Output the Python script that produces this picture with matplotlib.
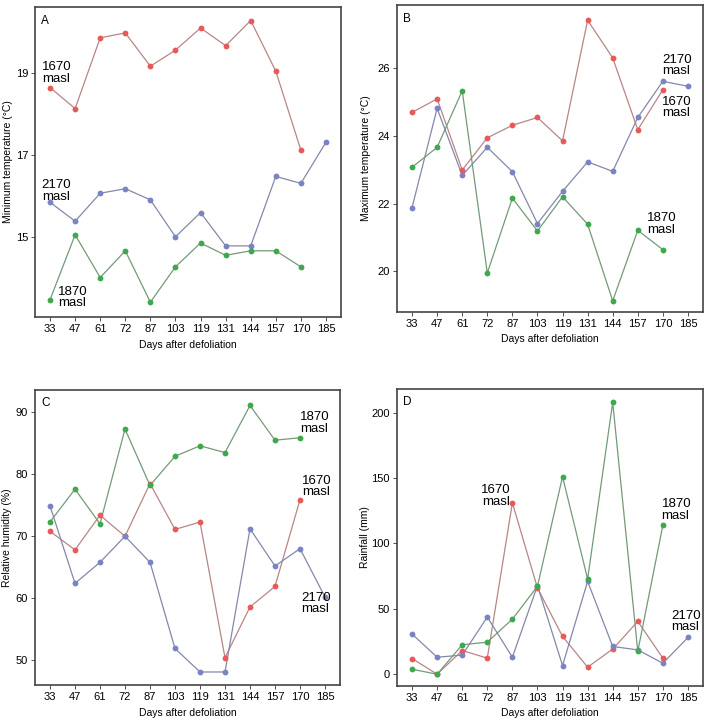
from matplotlib import pyplot as plt
import numpy as np

plt.rcParams['font.family'] = ['Liberation Sans', 'DejaVu Sans']

nan = np.nan
days = ["33", "47", "61", "72", "87", "103", "119", "131", "144", "157", "170", "185"]

# minimum temperature
tmin_1670 = [18.64, 18.13, 19.85, 19.97, 19.16, 19.55, 20.09, 19.66, 20.27, 19.04, 17.12, nan]
tmin_1870 = [13.48, 15.06, 14.02, 14.67, 13.42, 14.28, 14.86, 14.56, 14.67, 14.67, 14.28, nan]
tmin_2170 = [15.85, 15.39, 16.07, 16.18, 15.91, 15.01, 15.60, 14.79, 14.79, 16.48, 16.31, 17.31]

# maximum temperature
tmax_1670 = [24.69, 25.09, 22.99, 23.94, 24.31, 24.54, 23.85, 27.41, 26.30, 24.18, 25.36, nan]
tmax_1870 = [23.07, 23.66, 25.33, 19.95, 22.16, 21.19, 22.20, 21.39, 19.13, 21.21, 20.64, nan]
tmax_2170 = [21.88, 24.81, 22.83, 23.66, 22.94, 21.41, 22.36, 23.23, 22.95, 24.54, 25.61, 25.46]

# relative humidity
rh_1670 = [70.7, 67.7, 73.3, 69.9, 78.4, 71.0, 72.2, 50.3, 58.5, 61.8, 75.8, nan]
rh_1870 = [72.2, 77.5, 71.9, 87.2, 78.1, 82.8, 84.5, 83.4, 91.0, 85.4, 85.8, nan]
rh_2170 = [74.8, 62.3, 65.7, 69.9, 65.7, 51.8, 48.0, 48.0, 71.1, 65.1, 67.9, 60.1]

# rainfall
rain_1670 = [12.0, 0.0, 18.1, 12.3, 131.0, 65.9, 28.9, 5.4, 19.2, 40.4, 12.3, nan]
rain_1870 = [3.8, 0.0, 22.5, 24.5, 42.1, 67.2, 151.0, 72.8, 207.7, 17.4, 113.9, nan]
rain_2170 = [30.7, 13.0, 14.6, 43.7, 13.0, 67.7, 6.6, 71.0, 21.2, 18.6, 8.4, 28.1]

line_col = {"1670": "#b98585", "1870": "#749a78", "2170": "#8488aa"}
pt_col = {"1670": "#e8595a", "1870": "#3ea84c", "2170": "#7a84c4"}

W, H = 710, 722
fig = plt.figure(figsize=(W / 100, H / 100), dpi=100)


def panel(box, letter, series, ylim, yticks, ylabel, labx, notes):
    l, t, r, b = box
    ax = fig.add_axes([l / W, 1 - b / H, (r - l) / W, (b - t) / H])
    x = np.arange(len(days))
    for key in ["1670", "2170", "1870"]:
        ax.plot(x, series[key], '-', color=line_col[key], lw=0.9, zorder=2)
        ax.plot(x, series[key], 'o', color=pt_col[key], ms=4.2, mec='none', zorder=3)
    ax.set_xlim(-0.6, 11.6)
    ax.set_ylim(*ylim)
    ax.set_xticks(x)
    ax.set_xticklabels(days)
    ax.set_yticks(yticks)
    ax.tick_params(labelsize=8, length=3, width=0.6, color='#333333', pad=2)
    for s in ax.spines.values():
        s.set_color('#444444')
        s.set_linewidth(1.2)
    ax.set_xlabel("Days after defoliation", fontsize=7.5, labelpad=4)
    ax.set_ylabel(ylabel, fontsize=7.5)
    ax.yaxis.set_label_coords(labx, 0.5)
    ax.text(0.02, 0.975, letter, transform=ax.transAxes, fontsize=8.5, va='top', ha='left')
    for txt, xi, yv, ha in notes:
        ax.text(xi, yv, txt + "\nmasl", fontsize=9.5, ha=ha, va='center', linespacing=0.95)
    return ax


panel((35, 7, 341, 317), "A",
      {"1670": tmin_1670, "1870": tmin_1870, "2170": tmin_2170},
      (13.06, 20.6), [15, 17, 19], "Minimum temperature (°C)", -0.073,
      [("1670", -0.33, 19.0, 'left'), ("2170", -0.33, 16.13, 'left'), ("1870", 0.32, 13.53, 'left')])

panel((397, 5, 703, 312), "B",
      {"1670": tmax_1670, "1870": tmax_1870, "2170": tmax_2170},
      (18.8, 27.86), [20, 22, 24, 26], "Maximum temperature (°C)", -0.085,
      [("2170", 9.97, 26.07, 'left'), ("1670", 9.97, 24.83, 'left'), ("1870", 9.36, 21.40, 'left')])

panel((35, 390, 340, 685), "C",
      {"1670": rh_1670, "1870": rh_1870, "2170": rh_2170},
      (45.9, 93.5), [50, 60, 70, 80, 90], "Relative humidity (%)", -0.075,
      [("1870", 10.0, 88.2, 'left'), ("1670", 10.07, 77.9, 'left'), ("2170", 10.05, 59.05, 'left')])

panel((397, 389, 703, 686), "D",
      {"1670": rain_1670, "1870": rain_1870, "2170": rain_2170},
      (-9, 218), [0, 50, 100, 150, 200], "Rainfall (mm)", -0.087,
      [("1670", 3.91, 136.4, 'right'), ("1870", 9.95, 125.6, 'left'), ("2170", 10.35, 40.2, 'left')])

plt.savefig("out.png", dpi=100)
